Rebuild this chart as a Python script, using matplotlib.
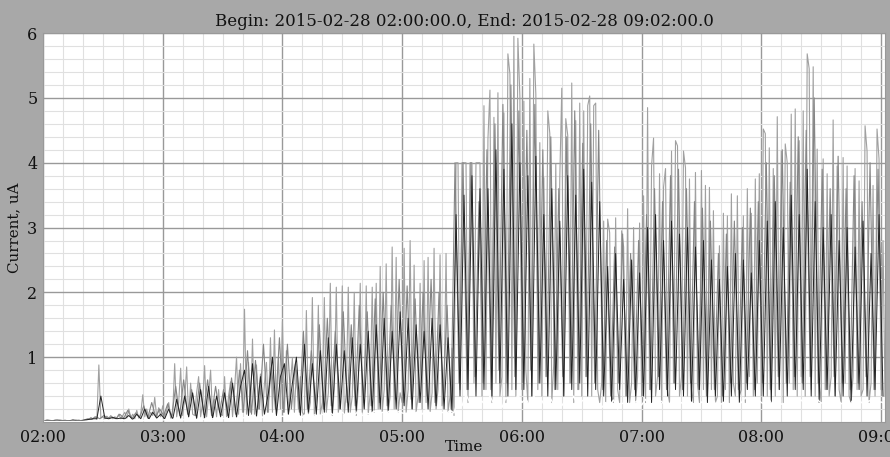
import matplotlib
matplotlib.use("Agg")
import matplotlib.pyplot as plt
import numpy as np

# minutes after 02:00, 02:00 .. 09:02
title_text = "Begin: 2015-02-28 02:00:00.0, End: 2015-02-28 09:02:00.0"
x_ticks_min = [0, 60, 120, 180, 240, 300, 360, 420]
x_tick_labels = ["02:00", "03:00", "04:00", "05:00", "06:00", "07:00", "08:00", "09:00"]
y_ticks = [1, 2, 3, 4, 5, 6]

# channel A (light gray), one value per minute
cur_a = [
    0.02, 0.02, 0.03, 0.02, 0.02, 0.02, 0.03, 0.02, 0.02, 0.02,
    0.02, 0.03, 0.02, 0.02, 0.02, 0.03, 0.02, 0.02, 0.03, 0.02,
    0.02, 0.03, 0.03, 0.04, 0.07, 0.05, 0.08, 0.04, 0.88, 0.06,
    0.08, 0.05, 0.09, 0.06, 0.10, 0.05, 0.08, 0.06, 0.12, 0.05,
    0.10, 0.15, 0.06, 0.20, 0.07, 0.12, 0.05, 0.18, 0.06, 0.13,
    0.42, 0.08, 0.20, 0.06, 0.15, 0.10, 0.38, 0.07, 0.22, 0.08,
    0.25, 0.08, 0.18, 0.30, 0.06, 0.12, 0.90, 0.08, 0.30, 0.83,
    0.10, 0.35, 0.85, 0.08, 0.60, 0.12, 0.10, 0.45, 0.70, 0.08,
    0.30, 0.87, 0.08, 0.40, 0.80, 0.10, 0.35, 0.08, 0.50, 0.12,
    0.10, 0.70, 0.08, 0.40, 0.62, 0.08, 0.50, 1.00, 0.12, 0.90,
    0.15, 1.74, 0.12, 0.92, 0.15, 1.28, 0.12, 0.88, 0.20, 0.74,
    0.10, 0.60, 0.92, 0.15, 1.30, 0.15, 1.42, 0.12, 1.00, 0.20,
    1.55, 0.15, 1.10, 0.12, 0.60, 0.98, 0.15, 0.80, 0.20, 0.70,
    0.15, 0.10, 1.72, 0.12, 0.30, 1.92, 0.10, 0.35, 1.80, 0.12,
    0.30, 1.92, 0.15, 0.45, 2.14, 0.10, 0.50, 2.08, 0.15, 0.35,
    2.10, 0.12, 0.45, 2.08, 0.15, 0.40, 2.00, 0.10, 0.50, 2.14,
    0.15, 0.40, 2.10, 0.12, 0.45, 2.08, 0.15, 2.14, 0.20, 2.40,
    0.15, 0.50, 2.44, 0.15, 0.40, 2.70, 0.20, 2.54, 0.15, 0.45,
    0.30, 2.68, 0.15, 0.50, 2.80, 0.20, 2.42, 0.15, 0.40, 2.14,
    0.20, 2.49, 0.30, 2.54, 0.15, 0.45, 2.68, 0.20, 0.50, 2.58,
    0.25, 0.45, 2.60, 0.15, 0.40, 1.14, 0.10, 4.00, 4.00, 0.50,
    4.00, 4.00, 4.00, 0.30, 4.00, 4.00, 0.60, 4.00, 4.00, 4.00,
    0.40, 4.88, 0.50, 4.37, 5.12, 0.30, 4.70, 0.60, 5.08, 0.40,
    0.70, 4.77, 0.30, 5.68, 5.37, 0.50, 5.95, 0.40, 5.92, 5.03,
    0.50, 4.95, 0.80, 0.30, 5.30, 0.40, 5.83, 5.06, 0.50, 4.31,
    0.40, 3.77, 0.70, 4.80, 4.45, 0.30, 0.90, 3.98, 0.50, 3.75,
    5.15, 0.40, 4.68, 4.42, 0.60, 5.23, 0.30, 4.65, 0.50, 4.92,
    0.40, 4.80, 0.70, 4.88, 5.03, 0.40, 4.88, 4.92, 0.50, 0.30,
    0.60, 3.10, 0.30, 3.13, 2.92, 0.40, 0.30, 3.15, 0.50, 0.30,
    2.95, 2.70, 0.40, 3.29, 0.30, 0.60, 3.00, 0.30, 0.70, 3.07,
    0.40, 3.49, 0.30, 4.85, 0.50, 3.95, 4.38, 0.40, 0.70, 3.83,
    0.30, 3.62, 3.91, 0.50, 0.30, 4.18, 0.60, 4.34, 4.26, 0.40,
    0.70, 4.18, 3.92, 0.40, 3.75, 0.50, 0.30, 3.85, 0.60, 0.30,
    3.88, 0.50, 3.65, 0.40, 3.62, 0.50, 3.26, 0.30, 0.40, 2.72,
    0.30, 3.22, 0.50, 3.18, 0.30, 3.52, 0.60, 0.40, 3.49, 0.40,
    0.50, 3.18, 0.30, 3.60, 0.70, 3.22, 0.40, 3.75, 0.60, 3.83,
    0.40, 4.52, 4.45, 0.40, 4.23, 0.70, 3.91, 0.40, 4.71, 0.50,
    4.18, 0.30, 4.29, 4.00, 0.60, 4.75, 0.50, 4.83, 0.40, 4.34,
    0.70, 4.80, 0.40, 5.68, 5.45, 0.50, 5.48, 0.40, 4.21, 0.60,
    0.30, 4.06, 0.50, 3.83, 0.40, 0.70, 4.66, 0.40, 3.95, 0.50,
    0.30, 4.08, 0.60, 3.95, 0.40, 0.30, 0.70, 3.91, 0.50, 3.72,
    0.40, 0.50, 4.57, 4.18, 0.30, 0.60, 3.65, 0.40, 4.52, 4.06,
    0.50, 2.80, 0.40,
]

# channel B (black), every 2 minutes starting 02:01
cur_b = [
    0.02, 0.02, 0.02, 0.03, 0.02, 0.02, 0.02, 0.03, 0.02, 0.02,
    0.03, 0.04, 0.05, 0.05, 0.40, 0.06, 0.05, 0.07, 0.05, 0.06,
    0.05, 0.10, 0.04, 0.12, 0.05, 0.20, 0.04, 0.15, 0.06, 0.12,
    0.05, 0.20, 0.04, 0.35, 0.06, 0.40, 0.08, 0.45, 0.05, 0.50,
    0.06, 0.55, 0.05, 0.40, 0.08, 0.45, 0.06, 0.60, 0.07, 0.55,
    0.80, 0.10, 0.90, 0.08, 0.70, 0.12, 0.45, 1.00, 0.10, 0.70,
    0.90, 0.12, 0.60, 1.00, 0.10, 1.20, 0.15, 0.90, 0.12, 1.10,
    0.15, 1.30, 0.12, 1.20, 0.20, 1.10, 0.15, 1.30, 0.18, 1.20,
    0.20, 1.40, 0.15, 1.50, 0.20, 1.60, 0.18, 1.40, 0.20, 1.70,
    0.25, 1.60, 0.20, 1.50, 0.30, 1.40, 0.20, 1.60, 0.25, 1.50,
    0.20, 1.30, 0.15, 3.20, 0.40, 3.50, 0.50, 3.80, 0.40, 3.60,
    0.50, 3.60, 0.40, 4.20, 0.60, 3.90, 0.40, 4.60, 0.50, 4.00,
    0.50, 3.80, 0.40, 4.10, 0.60, 3.20, 0.40, 3.60, 0.50, 3.10,
    0.40, 3.80, 0.50, 3.50, 0.60, 3.90, 0.40, 3.70, 0.50, 3.40,
    0.40, 2.40, 0.30, 2.60, 0.50, 2.20, 0.30, 2.50, 0.40, 2.30,
    0.40, 3.00, 0.30, 3.20, 0.50, 2.80, 0.40, 3.10, 0.50, 2.90,
    0.40, 3.00, 0.30, 2.70, 0.50, 2.80, 0.30, 2.50, 0.40, 2.20,
    0.30, 2.40, 0.40, 2.60, 0.30, 2.50, 0.50, 2.30, 0.40, 2.80,
    0.40, 3.10, 0.30, 3.40, 0.50, 3.00, 0.40, 3.50, 0.50, 3.20,
    0.50, 3.90, 0.40, 3.40, 0.30, 3.00, 0.50, 3.20, 0.40, 2.80,
    0.40, 3.00, 0.30, 2.70, 0.50, 3.10, 0.40, 2.60, 0.50, 3.20,
    0.40,
]

# channel D (mid gray), every 2 minutes starting 02:00:30
cur_d = [
    0.02, 0.03, 0.02, 0.02, 0.03, 0.02, 0.02, 0.02, 0.03, 0.02,
    0.03, 0.05, 0.04, 0.08, 0.05, 0.10, 0.06, 0.08, 0.05, 0.12,
    0.06, 0.18, 0.05, 0.14, 0.07, 0.25, 0.06, 0.30, 0.08, 0.20,
    0.10, 0.28, 0.08, 0.55, 0.10, 0.65, 0.12, 0.50, 0.10, 0.60,
    0.12, 0.65, 0.10, 0.55, 0.15, 0.50, 0.10, 0.68, 0.12, 0.80,
    0.15, 1.10, 0.12, 0.95, 0.20, 1.20, 0.15, 0.85, 0.20, 1.30,
    0.15, 1.20, 0.20, 0.90, 0.15, 1.40, 0.20, 1.10, 0.25, 1.50,
    0.20, 1.60, 0.25, 1.40, 0.20, 1.70, 0.30, 1.50, 0.25, 1.80,
    0.30, 1.70, 0.25, 1.90, 0.30, 2.00, 0.25, 1.80, 0.35, 2.20,
    0.30, 2.10, 0.35, 1.90, 0.30, 2.00, 0.40, 2.20, 0.30, 2.00,
    0.35, 1.80, 0.20, 4.00, 0.60, 4.00, 0.50, 4.00, 0.70, 3.40,
    0.60, 4.20, 0.50, 4.60, 0.80, 4.90, 0.60, 5.20, 0.70, 4.80,
    0.60, 4.50, 0.80, 4.90, 0.60, 4.20, 0.70, 4.40, 0.50, 3.60,
    0.70, 4.40, 0.60, 4.80, 0.50, 4.30, 0.70, 4.60, 0.60, 4.50,
    0.50, 2.80, 0.40, 2.70, 0.60, 2.90, 0.40, 2.60, 0.50, 2.80,
    0.60, 3.20, 0.50, 3.60, 0.70, 3.40, 0.50, 3.80, 0.60, 3.90,
    0.50, 3.60, 0.60, 3.40, 0.50, 3.30, 0.40, 3.10, 0.50, 2.60,
    0.40, 2.90, 0.60, 3.10, 0.50, 3.00, 0.60, 3.30, 0.50, 3.40,
    0.60, 4.00, 0.50, 3.80, 0.70, 4.20, 0.60, 3.70, 0.70, 4.40,
    0.60, 4.50, 0.70, 5.00, 0.60, 3.90, 0.50, 3.60, 0.70, 4.10,
    0.60, 3.60, 0.50, 3.80, 0.60, 3.40, 0.70, 4.00, 0.50, 3.90,
    0.50,
]

# channel C (white, low level), every 2 minutes starting 02:00
cur_c = [
    0.01, 0.01, 0.01, 0.01, 0.01, 0.01, 0.01, 0.01, 0.01, 0.01,
    0.01, 0.01, 0.02, 0.01, 0.02, 0.02, 0.02, 0.02, 0.03, 0.02,
    0.02, 0.03, 0.02, 0.03, 0.03, 0.02, 0.04, 0.03, 0.03, 0.04,
    0.03, 0.04, 0.03, 0.05, 0.04, 0.03, 0.05, 0.04, 0.03, 0.05,
    0.04, 0.05, 0.04, 0.06, 0.04, 0.05, 0.06, 0.04, 0.07, 0.05,
    0.06, 0.08, 0.05, 0.09, 0.06, 0.07, 0.10, 0.06, 0.08, 0.07,
    0.09, 0.07, 0.12, 0.08, 0.10, 0.07, 0.13, 0.09, 0.11, 0.08,
    0.12, 0.09, 0.14, 0.10, 0.12, 0.15, 0.09, 0.13, 0.11, 0.16,
    0.10, 0.14, 0.12, 0.17, 0.11, 0.15, 0.13, 0.18, 0.12, 0.16,
    0.14, 0.12, 0.18, 0.13, 0.16, 0.12, 0.19, 0.14, 0.17, 0.13,
    0.15, 0.12, 0.18, 0.14, 0.35, 0.25, 0.42, 0.30, 0.38, 0.28,
    0.32, 0.25, 0.40, 0.28, 0.35, 0.22, 0.38, 0.30, 0.26, 0.42,
    0.30, 0.36, 0.24, 0.40, 0.28, 0.33, 0.22, 0.38, 0.27, 0.31,
    0.25, 0.35, 0.28, 0.40, 0.24, 0.32, 0.37, 0.26, 0.34, 0.29,
    0.22, 0.30, 0.26, 0.34, 0.20, 0.28, 0.31, 0.24, 0.29, 0.33,
    0.26, 0.35, 0.22, 0.30, 0.27, 0.32, 0.24, 0.28, 0.36, 0.25,
    0.30, 0.24, 0.33, 0.27, 0.22, 0.31, 0.28, 0.25, 0.34, 0.23,
    0.28, 0.32, 0.25, 0.35, 0.27, 0.30, 0.38, 0.26, 0.33, 0.36,
    0.30, 0.27, 0.34, 0.25, 0.31, 0.28, 0.24, 0.32, 0.26, 0.29,
    0.34, 0.27, 0.31, 0.25, 0.35, 0.29, 0.33, 0.26, 0.30, 0.36,
    0.28, 0.32, 0.26, 0.34, 0.29, 0.31, 0.25, 0.33, 0.30, 0.27,
    0.31, 0.28,
]


def main():
    t_a = np.arange(len(cur_a))
    t_b = np.arange(len(cur_b)) * 2 + 1
    t_d = np.arange(len(cur_d)) * 2 + 0.5
    t_c = np.arange(len(cur_c)) * 2

    fig = plt.figure(figsize=(8.9, 4.57), dpi=100, facecolor="#a8a8a8")
    ax = fig.add_axes([0.0483, 0.0766, 0.9461, 0.851])
    ax.set_facecolor("white")

    ax.plot(t_a, cur_a, color="#a0a0a0", lw=0.8)
    ax.plot(t_d, cur_d, color="#858585", lw=0.8)
    ax.plot(t_b, cur_b, color="#222222", lw=0.7)
    ax.plot(t_c, cur_c, color="white", lw=1.0)

    ax.set_xlim(0, 422)
    ax.set_ylim(0, 6)
    ax.set_xticks(x_ticks_min)
    ax.set_xticklabels(x_tick_labels)
    ax.set_xticks(np.arange(0, 423, 10), minor=True)
    ax.set_yticks(y_ticks)
    ax.set_yticks(np.arange(0, 6.01, 0.2), minor=True)
    ax.grid(which="major", color="#999999", lw=1.0, zorder=0)
    ax.grid(which="minor", color="#e0e0e0", lw=0.8, zorder=0)
    ax.set_axisbelow(True)
    ax.tick_params(which="both", length=0)
    ax.tick_params(axis="x", pad=5)
    ax.tick_params(axis="y", pad=4)
    for lab in ax.get_xticklabels() + ax.get_yticklabels():
        lab.set_family("DejaVu Serif")
        lab.set_fontsize(11.5)
        lab.set_color("#111111")
    for s in ax.spines.values():
        s.set_color("#999999")

    ax.set_title(title_text, family="DejaVu Serif", fontsize=12, color="#111111", pad=5)
    ax.set_xlabel("Time", family="DejaVu Serif", fontsize=11, color="#111111", labelpad=-4)
    ax.set_ylabel("Current, uA", family="DejaVu Serif", fontsize=10.8, color="#111111", labelpad=4)

    fig.savefig("out.png", dpi=100, facecolor=fig.get_facecolor())


if __name__ == "__main__":
    main()
